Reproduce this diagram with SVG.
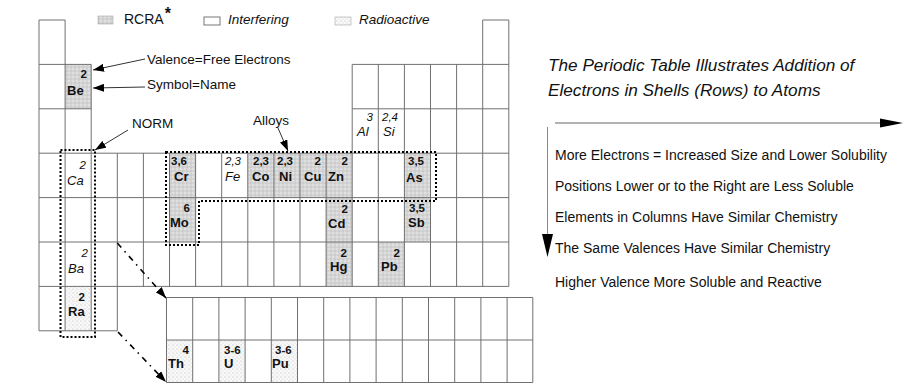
<svg xmlns="http://www.w3.org/2000/svg" width="908" height="384" viewBox="0 0 908 384">
<defs>
<pattern id="rcra" width="4" height="4" patternUnits="userSpaceOnUse"><rect width="4" height="4" fill="#d4d4d4"/><circle cx="1" cy="1" r="0.8" fill="#f0f0f0"/><circle cx="3" cy="3" r="0.6" fill="#b5b5b5"/></pattern>
<pattern id="rad" width="4" height="4" patternUnits="userSpaceOnUse"><rect width="4" height="4" fill="#f8f8f8"/><circle cx="1" cy="1" r="0.6" fill="#b8b8b8"/><circle cx="3" cy="3" r="0.5" fill="#d2d2d2"/></pattern>
<marker id="ah" markerUnits="userSpaceOnUse" markerWidth="11" markerHeight="8" refX="11" refY="4" orient="auto"><path d="M0,0 L11,4 L0,8 z" fill="#000"/></marker>
<style>
.grid{fill:none;stroke:#707070;stroke-width:1}
.rc{fill:url(#rcra)}
.ra{fill:url(#rad)}
.dot{fill:none;stroke:#000;stroke-width:2;stroke-dasharray:2,2}
.t{font-family:"Liberation Sans",Arial,sans-serif;fill:#111}
.lab{font-size:13.5px}
.num{font-size:11.5px;font-weight:bold}
.sym{font-size:13px;font-weight:bold}
.inum{font-size:11.5px;font-style:italic}
.isym{font-size:13px;font-style:italic}
.end{text-anchor:end}
.list{font-size:14px}
.title{font-size:17.2px;font-style:italic}
.conn{fill:none;stroke:#333;stroke-width:1}
.dd{fill:none;stroke:#000;stroke-width:1.6;stroke-dasharray:6,5,1.5,5}
</style>
</defs>
<rect width="908" height="384" fill="#fff"/>

<g id="legend">
<rect x="98" y="16" width="15" height="8" class="rc" stroke="#999" stroke-width="0.5"/>
<text class="t" x="124" y="24" font-size="14">RCRA<tspan dx="1" dy="-5" font-size="16" font-weight="bold">*</tspan></text>
<rect x="204" y="17" width="16" height="8" fill="#fff" stroke="#555" stroke-width="0.8"/>
<text class="t lab" x="228" y="24" font-style="italic">Interfering</text>
<rect x="335" y="17" width="16" height="8" class="ra" stroke="#999" stroke-width="0.5"/>
<text class="t lab" x="359" y="24" font-style="italic">Radioactive</text>
</g>

<g id="shading">
<rect x="65.1" y="64.4" width="26.1" height="44.4" class="rc"/>
<rect x="169.5" y="153.2" width="26.1" height="44.4" class="rc"/>
<rect x="247.8" y="153.2" width="104.4" height="44.4" class="rc"/>
<rect x="404.4" y="153.2" width="26.1" height="88.8" class="rc"/>
<rect x="169.5" y="197.6" width="26.1" height="44.4" class="rc"/>
<rect x="326.1" y="197.6" width="26.1" height="88.8" class="rc"/>
<rect x="378.3" y="242" width="26.1" height="44.4" class="rc"/>
<rect x="65.1" y="286.4" width="26.1" height="44.4" class="ra"/>
<rect x="166.5" y="340" width="26.2" height="42.5" class="ra"/>
<rect x="218.9" y="340" width="26.2" height="42.5" class="ra"/>
<rect x="271.3" y="340" width="26.2" height="42.5" class="ra"/>
</g>

<g id="table">
<path class="grid" d="M39,20H65.1 M482.7,20H508.8 M39,64.4H91.2 M352.2,64.4H508.8 M39,108.8H91.2 M352.2,108.8H508.8 M39,153.2H508.8 M39,197.6H508.8 M39,242H508.8 M39,286.4H508.8 M39,330.8H117.3
M39,20V330.8 M65.1,20V330.8 M91.2,64.4V330.8 M117.3,153.2V330.8 M143.4,153.2V286.4 M169.5,153.2V286.4 M195.6,153.2V286.4 M221.7,153.2V286.4 M247.8,153.2V286.4 M273.9,153.2V286.4 M300,153.2V286.4 M326.1,153.2V286.4 M352.2,64.4V286.4 M378.3,64.4V286.4 M404.4,64.4V286.4 M430.5,64.4V286.4 M456.6,64.4V286.4 M482.7,20V286.4 M508.8,20V286.4"/>
</g>

<g id="f-block">
<path class="grid" d="M166.5,297.5H532.8 M166.5,340H532.8 M166.5,382.5H532.8 M166.5,297.5V382.5 M192.7,297.5V382.5 M218.9,297.5V382.5 M245.1,297.5V382.5 M271.3,297.5V382.5 M297.5,297.5V382.5 M323.7,297.5V382.5 M349.9,297.5V382.5 M376.1,297.5V382.5 M402.3,297.5V382.5 M428.5,297.5V382.5 M454.7,297.5V382.5 M480.9,297.5V382.5 M507.1,297.5V382.5 M532.8,297.5V382.5"/>
</g>

<g id="Be"><text class="t num end" x="87" y="78">2</text><text class="t sym" x="67" y="95">Be</text></g>
<g id="Ca"><text class="t inum end" x="86" y="169">2</text><text class="t isym" x="67" y="185">Ca</text></g>
<g id="Ba"><text class="t inum end" x="88" y="257">2</text><text class="t isym" x="68" y="273">Ba</text></g>
<g id="Ra"><text class="t num end" x="85" y="301">2</text><text class="t sym" x="68" y="316">Ra</text></g>
<g id="Al"><text class="t inum end" x="373" y="121">3</text><text class="t isym" x="357" y="136">Al</text></g>
<g id="Si"><text class="t inum" x="382" y="121">2,4</text><text class="t isym" x="383" y="136">Si</text></g>
<g id="Cr"><text class="t num" x="171" y="165">3,6</text><text class="t sym" x="174" y="181">Cr</text></g>
<g id="Fe"><text class="t inum" x="225" y="165">2,3</text><text class="t isym" x="225" y="181">Fe</text></g>
<g id="Co"><text class="t num" x="253" y="165">2,3</text><text class="t sym" x="252" y="181">Co</text></g>
<g id="Ni"><text class="t num" x="277" y="165">2,3</text><text class="t sym" x="279" y="181">Ni</text></g>
<g id="Cu"><text class="t num end" x="321" y="165">2</text><text class="t sym" x="304" y="181">Cu</text></g>
<g id="Zn"><text class="t num end" x="348" y="165">2</text><text class="t sym" x="328" y="181">Zn</text></g>
<g id="As"><text class="t num" x="408" y="165">3,5</text><text class="t sym" x="406" y="182">As</text></g>
<g id="Mo"><text class="t num end" x="190" y="212">6</text><text class="t sym" x="170" y="227">Mo</text></g>
<g id="Cd"><text class="t num end" x="348" y="213">2</text><text class="t sym" x="328" y="228">Cd</text></g>
<g id="Sb"><text class="t num" x="409" y="212">3,5</text><text class="t sym" x="408" y="227">Sb</text></g>
<g id="Hg"><text class="t num end" x="347" y="257">2</text><text class="t sym" x="330" y="271">Hg</text></g>
<g id="Pb"><text class="t num end" x="400" y="257">2</text><text class="t sym" x="381" y="271">Pb</text></g>
<g id="Th"><text class="t num end" x="189" y="354">4</text><text class="t sym" x="168" y="368">Th</text></g>
<g id="U"><text class="t num" x="224" y="354">3-6</text><text class="t sym" x="224" y="368">U</text></g>
<g id="Pu"><text class="t num" x="275" y="354">3-6</text><text class="t sym" x="272" y="368">Pu</text></g>

<g id="NORM"><rect class="dot" x="60.5" y="150" width="34.5" height="187"/><text class="t lab" x="132" y="128">NORM</text></g>
<g id="Alloys"><path class="dot" d="M166,152 H436 V201 H199 V245 H166 Z"/><text class="t lab" x="253" y="125">Alloys</text></g>
<g id="labels">
<text class="t lab" x="147" y="64">Valence=Free Electrons</text>
<text class="t lab" x="147" y="89">Symbol=Name</text>
</g>

<g id="connectors">
<line class="conn" x1="145" y1="59" x2="93" y2="70" marker-end="url(#ah)"/>
<line class="conn" x1="145" y1="87" x2="93" y2="88" marker-end="url(#ah)"/>
<line class="conn" x1="128" y1="130" x2="95" y2="150" marker-end="url(#ah)"/>
<line class="conn" x1="278" y1="128" x2="288" y2="151" marker-end="url(#ah)"/>
<line class="dd" x1="117.3" y1="243" x2="166" y2="298" marker-end="url(#ah)"/>
<line class="dd" x1="118" y1="332" x2="166" y2="382" marker-end="url(#ah)"/>
</g>

<g id="notes">
<text class="t title" x="548" y="71">The Periodic Table Illustrates Addition of</text>
<text class="t title" x="548" y="96">Electrons in Shells (Rows) to Atoms</text>
<line x1="555" y1="123" x2="884" y2="123" stroke="#666" stroke-width="1"/>
<path d="M880,118.5 L903,123 L880,127.5 Z" fill="#000"/>
<line x1="547.5" y1="127" x2="547.5" y2="240" stroke="#888" stroke-width="1"/>
<path d="M542,234 L553,234 L547.5,257 Z" fill="#000"/>
<text class="t list" x="555" y="160">More Electrons = Increased Size and Lower Solubility</text>
<text class="t list" x="555" y="191">Positions Lower or to the Right are Less Soluble</text>
<text class="t list" x="555" y="222">Elements in Columns Have Similar Chemistry</text>
<text class="t list" x="555" y="253">The Same Valences Have Similar Chemistry</text>
<text class="t list" x="555" y="287">Higher Valence More Soluble and Reactive</text>
</g>
</svg>
